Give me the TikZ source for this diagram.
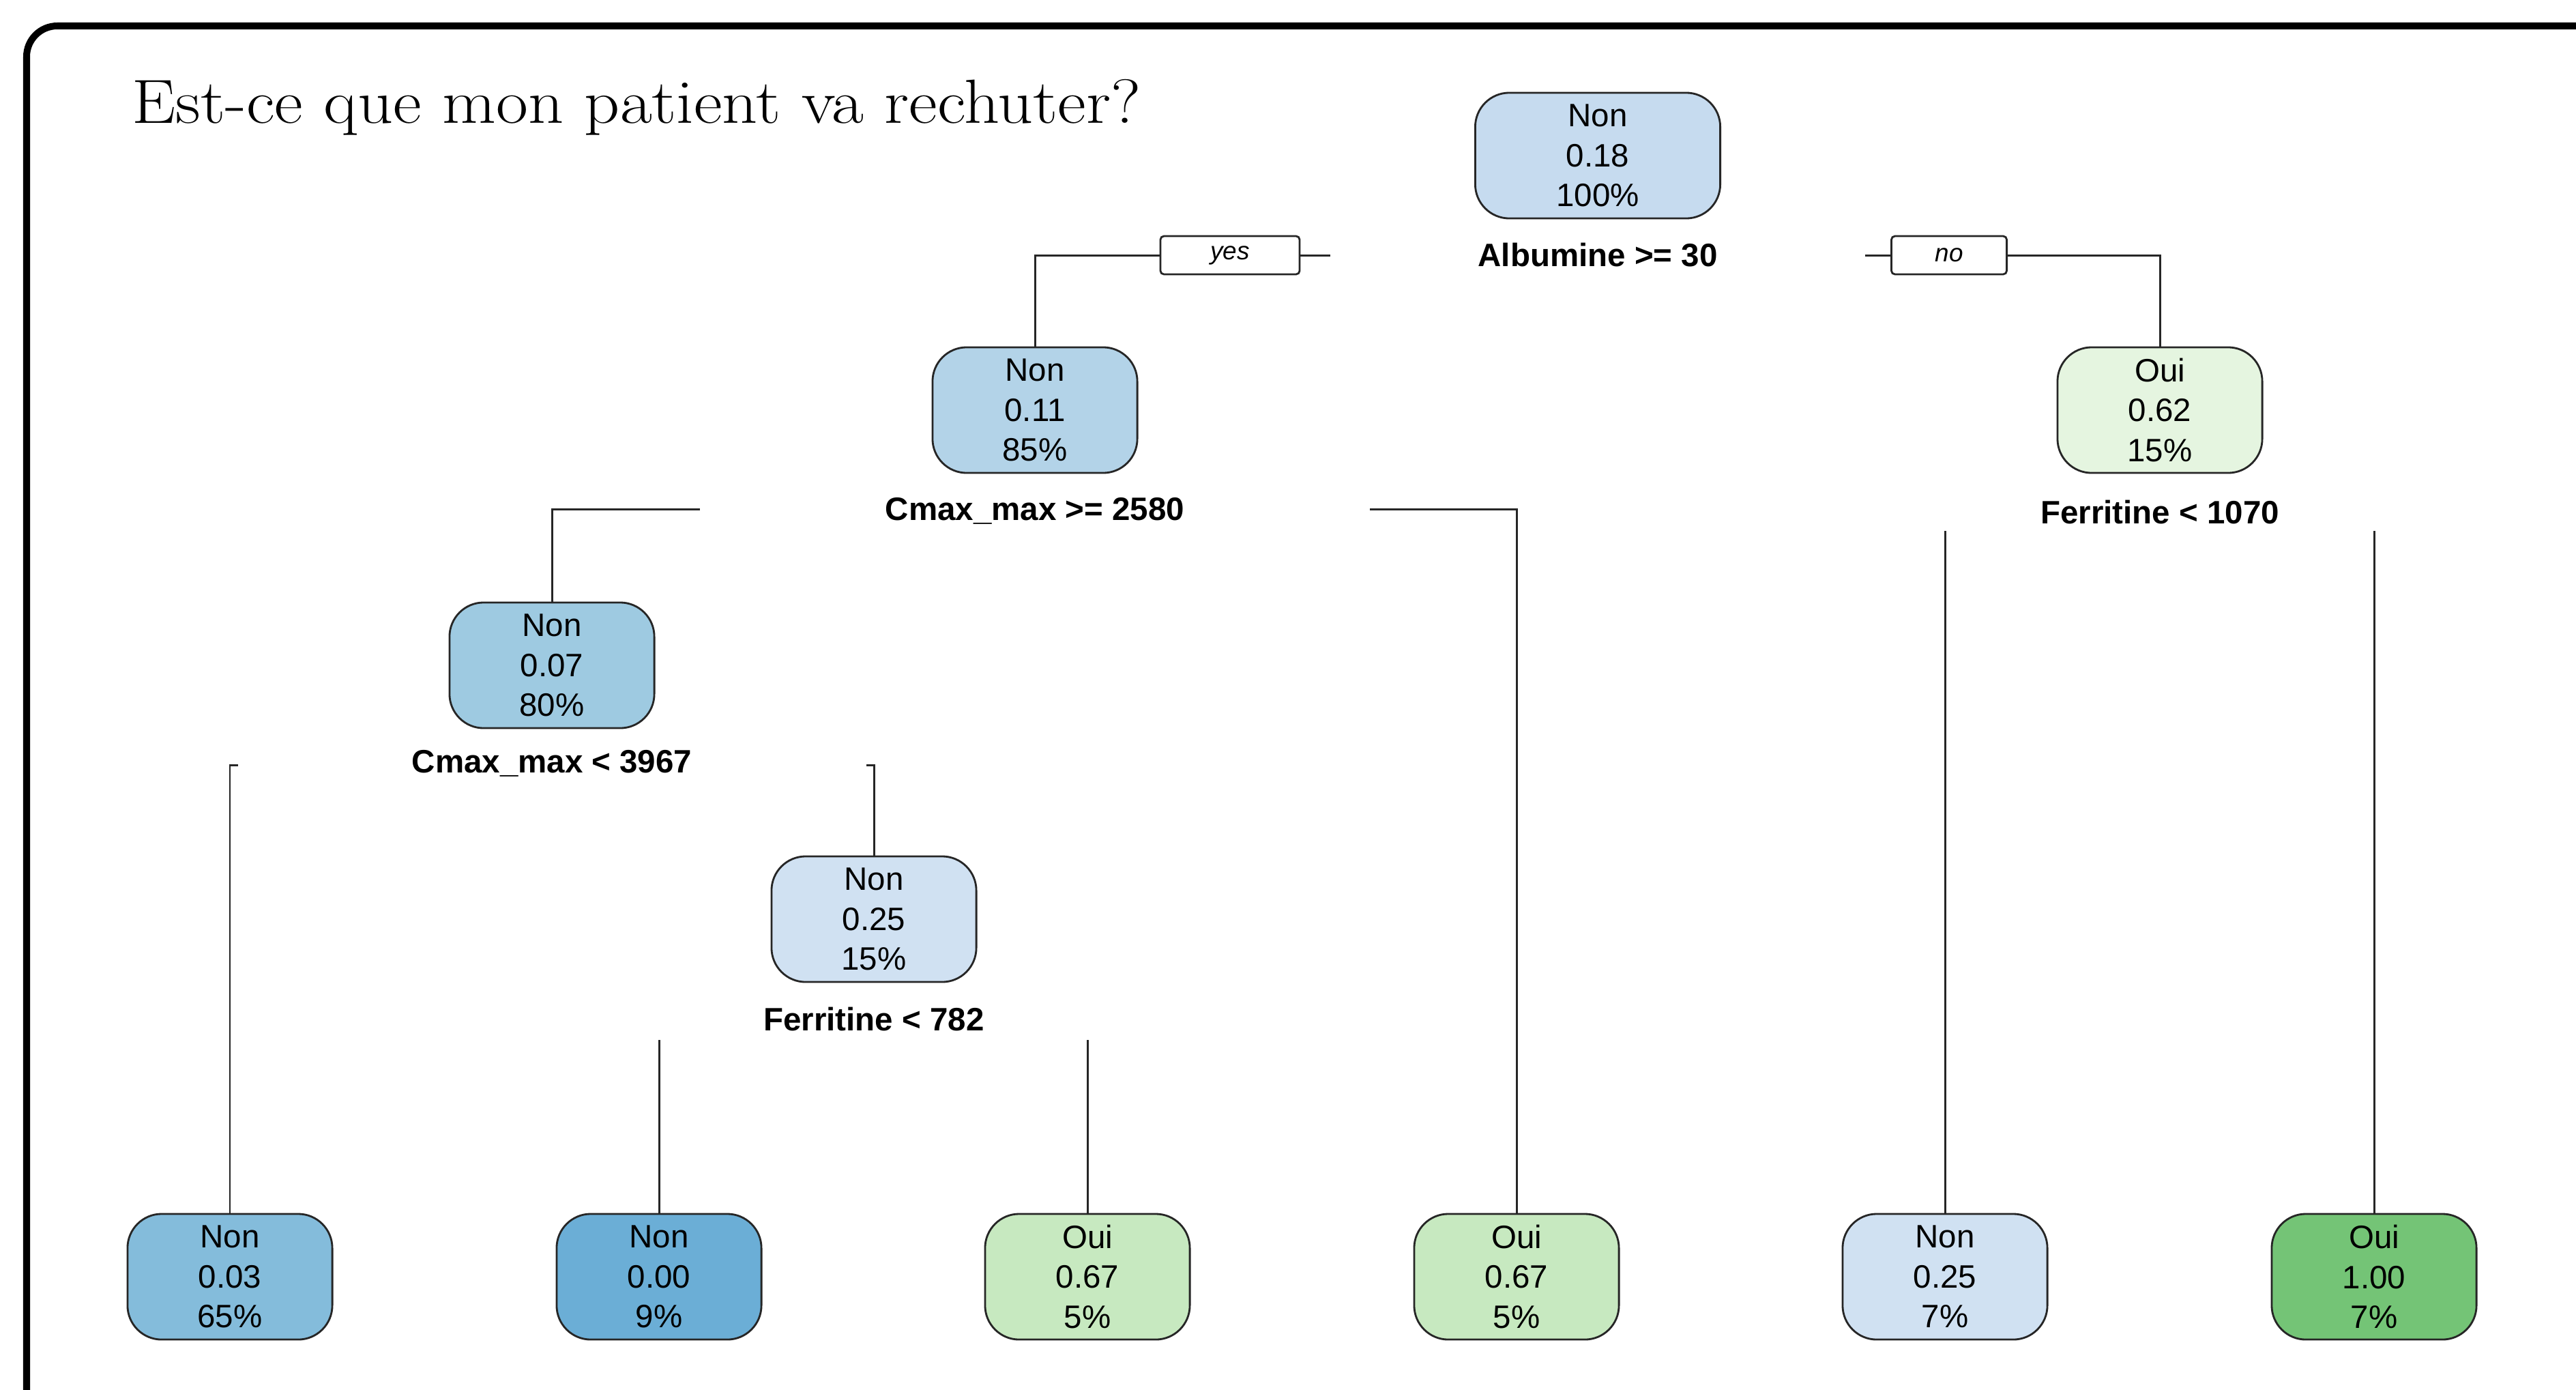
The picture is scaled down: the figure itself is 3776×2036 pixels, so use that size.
\documentclass[tikz,border=0pt]{standalone}
\usepackage{fontspec}
\newfontfamily\arialfont{Liberation Sans}
\usetikzlibrary{positioning}

\definecolor{nonroot}{RGB}{198,219,239}
\definecolor{nonmid}{RGB}{179,211,232}
\definecolor{nondeep}{RGB}{158,202,225}
\definecolor{nonpale}{RGB}{208,225,242}
\definecolor{nonleaf}{RGB}{132,188,219}
\definecolor{nondark}{RGB}{107,174,214}
\definecolor{ouipale}{RGB}{229,245,224}
\definecolor{ouimid}{RGB}{199,233,192}
\definecolor{ouidark}{RGB}{116,196,118}
\tikzstyle{treenode}=[draw=black!85, line width=0.8pt, rounded corners=0.5cm,
                     minimum width=3cm, minimum height=1.84cm, align=center,
                     font=\arialfont\fontsize{13.5}{16.6}\selectfont]
\tikzstyle{split}=[font=\arialfont\bfseries\fontsize{13.5}{16}\selectfont]
\tikzstyle{yesno}=[draw=black!85, line width=0.8pt, rounded corners=1.5pt,
                  minimum height=0.56cm, inner ysep=0pt,
                  font=\arialfont\itshape\fontsize{10.5}{12}\selectfont]
\tikzstyle{branch}=[line width=0.85pt, black!85]

\begin{document}
\begin{tikzpicture}[x=0.01cm, y=-0.01cm]
  \useasboundingbox (0,0) rectangle (3776,2036);
  % frame and title
  \draw[line width=0.1cm, rounded corners=0.45cm] (39,2100) -- (39,38) -- (3850,38);
  \node[anchor=base west, inner sep=0pt, xscale=1.115, transform shape,
        font=\fontsize{26}{30}\selectfont]
    (title) at (193,180) {Est-ce que mon patient va rechuter?};
  %
  % Inner nodes
  \node[treenode, fill=nonroot, minimum width=3.59cm] (root) at (2342,228) {Non\\0.18\\100\%};
  \node[treenode, fill=nonmid] (n2) at (1517,601) {Non\\0.11\\85\%};
  \node[treenode, fill=ouipale] (n3) at (3166,601) {Oui\\0.62\\15\%};
  \node[treenode, fill=nondeep] (n4) at (809,975) {Non\\0.07\\80\%};
  \node[treenode, fill=nonpale] (n9) at (1281,1347) {Non\\0.25\\15\%};
  %
  % Leaves
  \foreach \xpos/\name/\col/\cls/\prob/\pct in {337/l1/nonleaf/Non/0.03/65\%,
           966/l2/nondark/Non/0.00/9\%, 1594/l3/ouimid/Oui/0.67/5\%,
           2223/l4/ouimid/Oui/0.67/5\%, 2851/l5/nonpale/Non/0.25/7\%,
           3480/l6/ouidark/Oui/1.00/7\%}
    \node[treenode, fill=\col] (\name) at (\xpos,1871) {\cls\\\prob\\\pct};
  %
  % Split labels
  \node[split] (s1) at ([yshift=-0.52cm]root.south) {Albumine >= 30};
  \node[split] (s2) at ([yshift=-0.54cm]n2.south) {Cmax\_max >= 2580};
  \node[split] (s3) at ([yshift=-0.56cm]n3.south) {Ferritine < 1070};
  \node[split] (s4) at ([yshift=-0.50cm]n4.south) {Cmax\_max < 3967};
  \node[split] (s9) at ([yshift=-0.53cm]n9.south) {Ferritine < 782};
  %
  \node[yesno, minimum width=2.04cm] (yes) at (1803,374) {yes};
  \node[yesno, minimum width=1.69cm] (no) at (2857,374) {no};
  %%%%%%%%
  % Branches
  \coordinate (yesend) at (1950,374);
  \coordinate (nostart) at (2734,374);
  \draw[branch] (n2.north) |- (yes.west);
  \draw[branch] (yes.east) -- (yesend);
  \draw[branch] (nostart) -- (no.west);
  \draw[branch] (no.east) -| (n3.north);
  %
  \coordinate (c2l) at (1026,746);
  \coordinate (c2r) at (2008,746);
  \draw[branch] (c2l) -| (n4.north);
  \draw[branch] (c2r) -| (l4.north);
  %
  \coordinate (f3) at (0,778);
  \foreach \leaf in {l5,l6}
    \draw[branch] (\leaf.north) -- (\leaf.north |- f3);
  %
  \coordinate (c4l) at (349,1121);
  \coordinate (c4r) at (1270,1121);
  \draw[branch] (c4l) -| (l1.north);
  \draw[branch] (c4r) -| (n9.north);
  %
  \coordinate (f9) at (0,1524);
  \foreach \leaf in {l2,l3}
    \draw[branch] (\leaf.north) -- (\leaf.north |- f9);
\end{tikzpicture}
\end{document}
